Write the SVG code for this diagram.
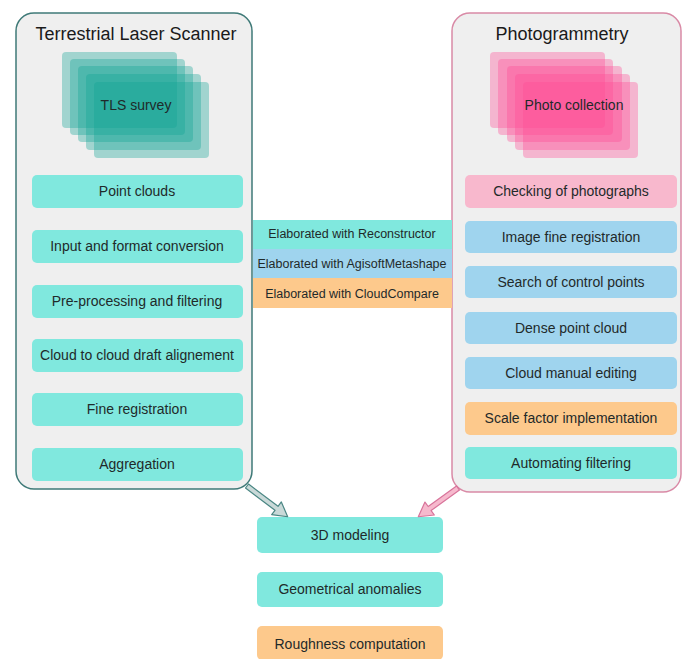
<svg xmlns="http://www.w3.org/2000/svg" width="685" height="659" viewBox="0 0 685 659">
<style>
text{font-family:"Liberation Sans",Arial,sans-serif;text-anchor:middle;fill:#1f2a2a}
.title{font-size:18px;fill:#1a1a1a}
.t{font-size:14px}
.lg{font-size:12.5px}
.panel{fill:#efefef;stroke-width:1.5}
.box{stroke:none}
.tq{fill:#80e8de}
.bl{fill:#9fd4ee}
.pk{fill:#f8b8cd}
.or{fill:#fdc98c}
.lt{fill:#12a294;fill-opacity:0.35}
.lp{fill:#ff4a94;fill-opacity:0.35}
</style>
<rect width="685" height="659" fill="#ffffff"/>
<g id="tls-panel">
<rect class="panel" x="16" y="13" width="236" height="476" rx="18" stroke="#3f7a78"/>
<text class="title" x="136" y="40">Terrestrial Laser Scanner</text>
</g>
<g id="tls-survey">
<rect class="lt" x="62" y="52" width="115" height="76" rx="4"/>
<rect class="lt" x="70" y="59" width="115" height="76" rx="4"/>
<rect class="lt" x="78" y="66" width="115" height="76" rx="4"/>
<rect class="lt" x="86" y="74" width="115" height="76" rx="4"/>
<rect class="lt" x="94" y="82" width="115" height="76" rx="4"/>
<text class="t" x="136" y="110">TLS survey</text>
</g>
<g id="point-clouds"><rect class="box tq" x="32" y="175" width="211" height="33" rx="5"/><text class="t" x="137" y="196">Point clouds</text></g>
<g id="input-format"><rect class="box tq" x="32" y="230" width="211" height="33" rx="5"/><text class="t" x="137" y="251">Input and format conversion</text></g>
<g id="preprocessing"><rect class="box tq" x="32" y="285" width="211" height="33" rx="5"/><text class="t" x="137" y="306">Pre-processing and filtering</text></g>
<g id="c2c-alignment"><rect class="box tq" x="32" y="339" width="211" height="33" rx="5"/><text class="t" x="137" y="360">Cloud to cloud draft alignement</text></g>
<g id="fine-registration"><rect class="box tq" x="32" y="393" width="211" height="33" rx="5"/><text class="t" x="137" y="414">Fine registration</text></g>
<g id="aggregation"><rect class="box tq" x="32" y="448" width="211" height="33" rx="5"/><text class="t" x="137" y="469">Aggregation</text></g>

<g id="photo-panel">
<rect class="panel" x="452" y="13" width="229" height="479" rx="18" stroke="#d98aa6"/>
<text class="title" x="562" y="40">Photogrammetry</text>
</g>
<g id="photo-collection">
<rect class="lp" x="490" y="52" width="115" height="76" rx="4"/>
<rect class="lp" x="498" y="59" width="115" height="76" rx="4"/>
<rect class="lp" x="507" y="66" width="115" height="76" rx="4"/>
<rect class="lp" x="515" y="74" width="115" height="76" rx="4"/>
<rect class="lp" x="523" y="82" width="115" height="76" rx="4"/>
<text class="t" x="574" y="110">Photo collection</text>
</g>
<g id="checking"><rect class="box pk" x="465" y="175" width="212" height="33" rx="5"/><text class="t" x="571" y="196">Checking of photographs</text></g>
<g id="image-fine"><rect class="box bl" x="465" y="221" width="212" height="32" rx="5"/><text class="t" x="571" y="242">Image fine registration</text></g>
<g id="control-points"><rect class="box bl" x="465" y="266" width="212" height="32" rx="5"/><text class="t" x="571" y="287">Search of control points</text></g>
<g id="dense-cloud"><rect class="box bl" x="465" y="312" width="212" height="32" rx="5"/><text class="t" x="571" y="333">Dense point cloud</text></g>
<g id="manual-editing"><rect class="box bl" x="465" y="357" width="212" height="32" rx="5"/><text class="t" x="571" y="378">Cloud manual editing</text></g>
<g id="scale-factor"><rect class="box or" x="465" y="402" width="212" height="33" rx="5"/><text class="t" x="571" y="423">Scale factor implementation</text></g>
<g id="auto-filtering"><rect class="box tq" x="465" y="447" width="212" height="32" rx="5"/><text class="t" x="571" y="468">Automating filtering</text></g>

<g id="legend">
<rect class="tq" x="253" y="220" width="199" height="29"/>
<rect class="bl" x="253" y="249" width="199" height="29"/>
<rect class="or" x="253" y="278" width="199" height="30"/>
<text class="lg" x="352" y="238">Elaborated with Reconstructor</text>
<text class="lg" x="352" y="268">Elaborated with AgisoftMetashape</text>
<text class="lg" x="352" y="298">Elaborated with CloudCompare</text>
</g>

<g id="modeling-3d"><rect class="box tq" x="257" y="517" width="186" height="36" rx="5"/><text class="t" x="350" y="540">3D modeling</text></g>
<g id="geom-anomalies"><rect class="box tq" x="257" y="572" width="186" height="35" rx="5"/><text class="t" x="350" y="594">Geometrical anomalies</text></g>
<g id="roughness"><rect class="box or" x="257" y="626" width="186" height="34" rx="5"/><text class="t" x="350" y="649">Roughness computation</text></g>

<g id="connectors">
<polygon points="0,-2.5 37,-2.5 37,-8 51,0 37,8 37,2.5 0,2.5" transform="translate(247,486) rotate(37.1)" fill="#c9d9d8" stroke="#4b8784" stroke-width="1.2" stroke-linejoin="round"/>
<polygon points="0,-2.5 35,-2.5 35,-8 49,0 35,8 35,2.5 0,2.5" transform="translate(458,488) rotate(144.1)" fill="#f6b9cd" stroke="#d8739a" stroke-width="1.2" stroke-linejoin="round"/>
</g>
</svg>
